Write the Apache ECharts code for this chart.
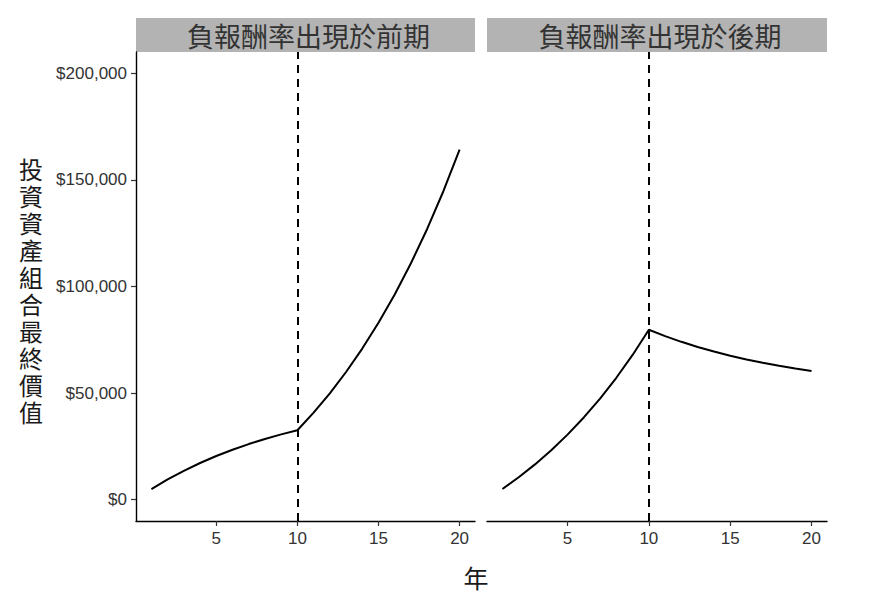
<!DOCTYPE html>
<html>
<head>
<meta charset="utf-8">
<script src="https://cdn.jsdelivr.net/npm/echarts@6/dist/echarts.min.js"></script>
<style>
html,body{margin:0;padding:0;background:#fff;}
#chart{width:870px;height:600px;}
</style>
</head>
<body>
<div id="chart"></div>
<script>
// ---- data ----
const years = [1,2,3,4,5,6,7,8,9,10,11,12,13,14,15,16,17,18,19,20];
const earlyNegative = [5000,9500,13550,17195,20476,23428,26085,28477,30629,32566,
                       40823,49905,59895,70885,82974,96271,110898,126988,144687,164155];
const lateNegative  = [5000,10500,16550,23205,30526,38578,47436,57179,67897,79687,
                       76718,74047,71642,69478,67530,65777,64199,62779,61501,60351];
const panelTitles = ['負報酬率出現於前期', '負報酬率出現於後期'];
const yTicks = [0, 50000, 100000, 150000, 200000];
const xTicks = [5, 10, 15, 20];
const switchYear = 10;
const yTitle = '投資資產組合最終價值';
const xTitle = '年';

const pair = (ys) => years.map((x, i) => [x, ys[i]]);
const fmt = (v) => '$' + String(v).replace(/\B(?=(\d{3})+(?!\d))/g, ',');

const tickFont = 'Liberation Sans, Arial, sans-serif';
const cjkFont = '"Noto Sans CJK TC", "Noto Sans CJK SC", sans-serif';

const grids = [
  {left: 136, top: 52, width: 339, height: 469},
  {left: 487, top: 52, width: 340, height: 469}
];

function xAxisFor(i) {
  return {
    type: 'value', gridIndex: i, min: 0.05, max: 20.95,
    axisLine: {show: true, onZero: false, lineStyle: {color: '#000', width: 1.4}},
    axisTick: {show: true, length: 5, customValues: xTicks, lineStyle: {color: '#333', width: 1.2}},
    axisLabel: {show: true, customValues: xTicks, margin: 9, color: '#333', fontSize: 17, fontFamily: tickFont},
    splitLine: {show: false}
  };
}
function yAxisFor(i) {
  return {
    type: 'value', gridIndex: i, min: -10000, max: 210000,
    show: i === 0,
    axisLine: {show: i === 0, onZero: false, lineStyle: {color: '#000', width: 1.4}},
    axisTick: {show: i === 0, length: 5, customValues: yTicks, lineStyle: {color: '#333', width: 1.2}},
    axisLabel: {show: i === 0, customValues: yTicks, margin: 9, color: '#333', fontSize: 17, fontFamily: tickFont,
                formatter: (v) => fmt(v)},
    splitLine: {show: false}
  };
}
function seriesFor(i, ys) {
  return {
    type: 'line', xAxisIndex: i, yAxisIndex: i, data: pair(ys),
    showSymbol: false, symbol: 'none', smooth: false, animation: false,
    lineStyle: {color: '#000', width: 2},
    markLine: {
      silent: true, symbol: ['none', 'none'], animation: false,
      label: {show: false},
      lineStyle: {color: '#000', type: [8, 6], width: 2},
      data: [{xAxis: switchYear}]
    }
  };
}

const chart = echarts.init(document.getElementById('chart'), null, {renderer: 'svg'});
const strips = grids.map((g, i) => ({
  type: 'group',
  children: [
    {type: 'rect', shape: {x: g.left, y: 18, width: g.width, height: 34}, style: {fill: '#b3b3b3'}},
    {type: 'text', x: g.left + g.width / 2 + 3, y: 35,
     style: {text: panelTitles[i], fill: '#333', font: '27px ' + cjkFont, textAlign: 'center', textVerticalAlign: 'middle'}}
  ]
}));

const yTitleChars = yTitle.split('').map((ch, k, arr) => ({
  type: 'text', x: 31, y: 290 + (k - (arr.length - 1) / 2) * 27,
  style: {text: ch, fill: '#1a1a1a', font: '24px ' + cjkFont, textAlign: 'center', textVerticalAlign: 'middle'}
}));

chart.setOption({
  backgroundColor: '#fff',
  animation: false,
  grid: grids,
  xAxis: [xAxisFor(0), xAxisFor(1)],
  yAxis: [yAxisFor(0), yAxisFor(1)],
  series: [seriesFor(0, earlyNegative), seriesFor(1, lateNegative)],
  graphic: strips.concat(yTitleChars).concat([
    {type: 'text', x: 476, y: 577,
     style: {text: xTitle, fill: '#1a1a1a', font: '25px ' + cjkFont, textAlign: 'center', textVerticalAlign: 'middle'}}
  ])
});
</script>
</body>
</html>
